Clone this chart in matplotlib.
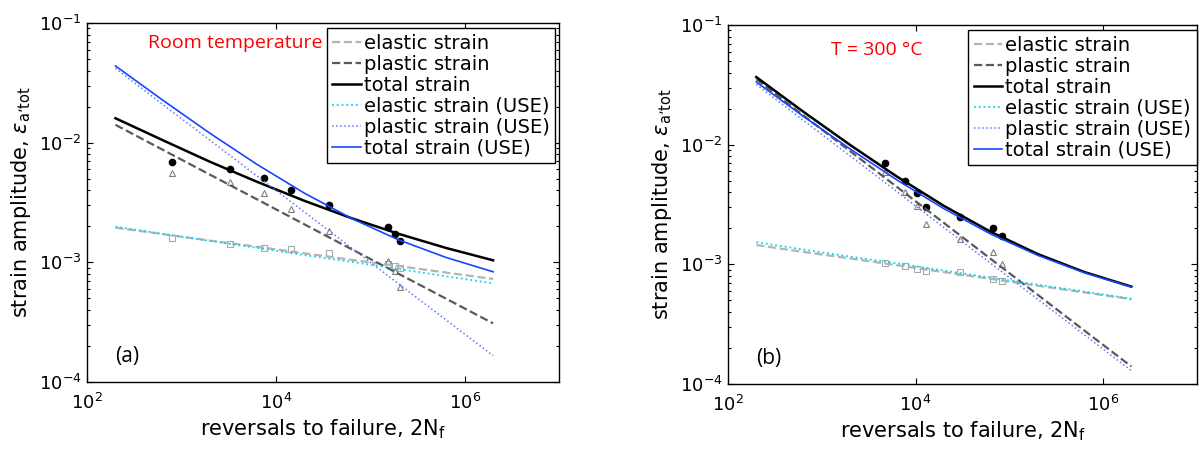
import numpy as np
import matplotlib.pyplot as plt
from matplotlib.ticker import LogLocator, NullFormatter, NullLocator

plt.rcParams['font.family'] = ['DejaVu Sans']
plt.rcParams['mathtext.fontset'] = 'dejavusans'

# fit lines: reversals to failure, 2Nf
nf_line = [2e2, 6.32e2, 2e3, 6.32e3, 2e4, 6.32e4, 2e5, 6.32e5, 2e6]

# (a) room temperature
a_el = [1.95e-3, 1.72e-3, 1.52e-3, 1.35e-3, 1.19e-3, 1.05e-3, 9.31e-4, 8.22e-4, 7.26e-4]
a_pl = [1.41e-2, 8.73e-3, 5.41e-3, 3.36e-3, 2.08e-3, 1.29e-3, 8.02e-4, 4.98e-4, 3.09e-4]
a_tot = [1.60e-2, 1.05e-2, 6.93e-3, 4.71e-3, 3.27e-3, 2.34e-3, 1.73e-3, 1.32e-3, 1.04e-3]
a_el_use = [1.99e-3, 1.73e-3, 1.51e-3, 1.32e-3, 1.15e-3, 1.01e-3, 8.79e-4, 7.66e-4, 6.68e-4]
a_pl_use = [4.18e-2, 2.09e-2, 1.05e-2, 5.26e-3, 2.64e-3, 1.32e-3, 6.61e-4, 3.31e-4, 1.66e-4]
a_tot_use = [4.38e-2, 2.27e-2, 1.20e-2, 6.58e-3, 3.79e-3, 2.33e-3, 1.54e-3, 1.10e-3, 8.34e-4]

a_nf = [792, 3236, 7430, 14500, 36500, 153500, 185000, 209000]
a_tot_pts = [6.93e-3, 6.03e-3, 5.03e-3, 4.02e-3, 3.01e-3, 1.98e-3, 1.73e-3, 1.50e-3]
a_pl_pts = [5.55e-3, 4.72e-3, 3.78e-3, 2.78e-3, 1.84e-3, 1.03e-3, 8.47e-4, 6.19e-4]
a_el_pts = [1.61e-3, 1.42e-3, 1.33e-3, 1.29e-3, 1.19e-3, 9.7e-4, 9.4e-4, 8.9e-4]

# (b) T = 300 C
b_el = [1.45e-3, 1.27e-3, 1.12e-3, 9.82e-4, 8.61e-4, 7.55e-4, 6.62e-4, 5.82e-4, 5.11e-4]
b_pl = [3.52e-2, 1.76e-2, 8.83e-3, 4.43e-3, 2.22e-3, 1.11e-3, 5.57e-4, 2.79e-4, 1.40e-4]
b_tot = [3.67e-2, 1.89e-2, 9.95e-3, 5.41e-3, 3.08e-3, 1.87e-3, 1.22e-3, 8.61e-4, 6.51e-4]
b_el_use = [1.53e-3, 1.33e-3, 1.16e-3, 1.02e-3, 8.87e-4, 7.74e-4, 6.76e-4, 5.92e-4, 5.16e-4]
b_pl_use = [3.19e-2, 1.60e-2, 8.05e-3, 4.05e-3, 2.03e-3, 1.02e-3, 5.12e-4, 2.57e-4, 1.29e-4]
b_tot_use = [3.34e-2, 1.73e-2, 9.21e-3, 5.07e-3, 2.92e-3, 1.79e-3, 1.19e-3, 8.49e-4, 6.45e-4]

b_nf = [4660, 7800, 10380, 13000, 30000, 67400, 82400]
b_tot_pts = [6.98e-3, 4.97e-3, 3.97e-3, 3.03e-3, 2.47e-3, 2.00e-3, 1.74e-3]
b_pl_pts = [5.94e-3, 4.05e-3, 3.07e-3, 2.17e-3, 1.64e-3, 1.26e-3, 1.01e-3]
b_el_pts = [1.02e-3, 9.69e-4, 9.14e-4, 8.80e-4, 8.68e-4, 7.59e-4, 7.30e-4]

labels = ['elastic strain', 'plastic strain', 'total strain',
          'elastic strain (USE)', 'plastic strain (USE)', 'total strain (USE)']


def panel(ax, el, pl, tot, el_use, pl_use, tot_use, nf, tp, pp, ep, note, note_xy, tag, leg_anchor):
    # measured points
    ax.plot(nf, ep, 's', ms=4, mfc='none', mec='#a8a8a8', mew=0.8)
    ax.plot(nf, pp, '^', ms=4.5, mfc='none', mec='#808080', mew=0.8)
    ax.plot(nf, tp, 'o', ms=4.5, color='black')
    # fits
    h = []
    h += ax.plot(nf_line, el, '--', color='#b4b4b4', lw=1.6)
    h += ax.plot(nf_line, pl, '--', color='#5a5a5a', lw=1.6)
    h += ax.plot(nf_line, tot, '-', color='black', lw=1.8)
    h += ax.plot(nf_line, el_use, ':', color='#00d8f0', lw=1.3)
    h += ax.plot(nf_line, pl_use, ':', color='#5a78ff', lw=1.1)
    h += ax.plot(nf_line, tot_use, '-', color='#1446ff', lw=1.2)

    ax.set_xscale('log')
    ax.set_yscale('log')
    ax.set_xlim(1e2, 1e7)
    ax.set_ylim(1e-4, 1e-1)
    ax.set_xticks([1e2, 1e4, 1e6])
    ax.xaxis.set_minor_locator(NullLocator())
    ax.set_yticks([1e-4, 1e-3, 1e-2, 1e-1])
    ax.yaxis.set_minor_locator(LogLocator(base=10, subs=np.arange(2, 10)))
    ax.yaxis.set_minor_formatter(NullFormatter())
    ax.tick_params(which='both', direction='in', top=True, right=True, labelsize=13, width=0.8)
    ax.tick_params(which='major', length=4, pad=4)
    ax.tick_params(axis='x', which='major', pad=8)
    ax.tick_params(which='minor', length=2.5)
    for s in ax.spines.values():
        s.set_linewidth(1.0)

    ax.set_xlabel(r'reversals to failure, 2N$_\mathregular{f}$', fontsize=15, labelpad=3)
    ax.set_ylabel(r'strain amplitude, $\varepsilon_{\mathregular{a’tot}}$', fontsize=15, labelpad=4)

    ax.text(note_xy[0], note_xy[1], note, transform=ax.transAxes, color='red',
            fontsize=14, family='Open Sans', va='center', ha='left')
    ax.text(0.06, 0.07, tag, transform=ax.transAxes, fontsize=15, family='Open Sans',
            va='center', ha='left')

    leg = ax.legend(h, labels, loc='upper right', bbox_to_anchor=leg_anchor, borderaxespad=0,
                    fontsize=14, frameon=True, fancybox=False, framealpha=1, edgecolor='black',
                    handlelength=1.45, handletextpad=0.15, labelspacing=0.1, borderpad=0.3)
    leg.get_frame().set_linewidth(1.0)


fig = plt.figure(figsize=(12.02, 4.51), dpi=100)
ax1 = fig.add_axes([0.0724, 0.153, 0.3927, 0.796])
ax2 = fig.add_axes([0.6057, 0.1486, 0.3901, 0.796])

panel(ax1, a_el, a_pl, a_tot, a_el_use, a_pl_use, a_tot_use,
      a_nf, a_tot_pts, a_pl_pts, a_el_pts, 'Room temperature', (0.13, 0.945), '(a)', (0.992, 0.986))
panel(ax2, b_el, b_pl, b_tot, b_el_use, b_pl_use, b_tot_use,
      b_nf, b_tot_pts, b_pl_pts, b_el_pts, 'T = 300 °C', (0.22, 0.93), '(b)', (1.0, 0.986))

fig.savefig('out.png', dpi=100)
